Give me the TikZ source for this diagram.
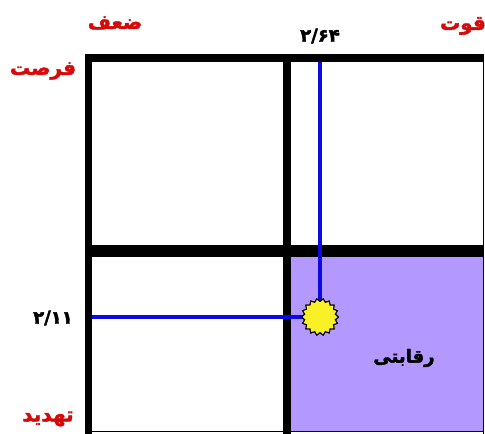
\documentclass[tikz,border=0pt]{standalone}
\usepackage{fontspec}
\usetikzlibrary{shapes.geometric}
\TeXXeTstate=1
\newfontfamily\arabicfont[Script=Arabic, FakeBold=2.2]{DejaVu Sans}
\definecolor{lblred}{RGB}{215,10,10}
\definecolor{quadpurple}{RGB}{179,153,255}
\definecolor{lineblue}{RGB}{10,10,225}
\definecolor{staryellow}{RGB}{250,240,40}
\tikzset{
  redlbl/.style={text=lblred, font=\arabicfont\bfseries\fontsize{20}{23}\selectfont, inner sep=0pt},
  numlbl/.style={text=black, font=\arabicfont\bfseries\fontsize{18}{21}\selectfont, inner sep=0pt},
  bar/.style={fill=black},
  blueline/.style={draw=lineblue, line width=4.5pt},
  sunstar/.style={star, star points=18, star point ratio=0.84, minimum size=31pt, inner sep=0pt, fill=staryellow, draw=black, line width=1pt}
}
\begin{document}
\begin{tikzpicture}[x=1pt,y=-1pt]
\useasboundingbox (0,0) rectangle (485,434);
\fill[white] (0,0) rectangle (485,434);
% purple quadrant
\fill[quadpurple] (291,257) rectangle (483,432);
% frame
\fill[bar] (85,54) rectangle (92,434);
\fill[bar] (85,54) rectangle (484,62);
\draw[line width=1.2pt] (483.5,54) -- (483.5,434);
\draw[line width=1.2pt] (85,431.5) -- (484,431.5);
% inner bars
\fill[bar] (283,62) rectangle (291,434);
\fill[bar] (92,245) rectangle (484,257);
% star and lines
\node[sunstar] (s) at (320,317) {};
\coordinate (top) at (320,62);
\coordinate (left) at (92,317);
\draw[blueline] (top) -- (s.center);
\draw[blueline] (left) -- (s.center);
\node[sunstar] at (320,317) {};
% labels
\node[redlbl] (weak) at (115,23) {\beginR ضعف\endR};
\node[redlbl] (strong) at (463,26) {\beginR قوت\endR};
\node[redlbl] (opp) at (43,71) {\beginR فرصت\endR};
\node[redlbl] (threat) at (48,419) {\beginR تهدید\endR};
\node[numlbl] (n1) at (320,36) {\beginR ۲/۶۴\endR};
\node[numlbl] (n2) at (53,318) {\beginR ۲/۱۱\endR};
\node[numlbl] (comp) at (404,358) {\beginR رقابتی\endR};
\end{tikzpicture}
\end{document}
